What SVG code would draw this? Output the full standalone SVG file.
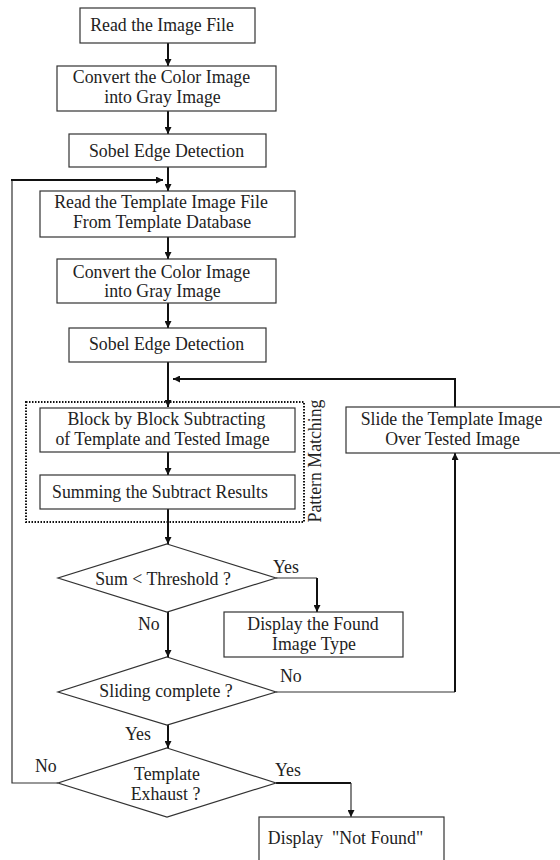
<svg xmlns="http://www.w3.org/2000/svg" width="560" height="860" viewBox="0 0 560 860">
<style>
.box{fill:#fff;stroke:#333;stroke-width:1.2}
.t{font-family:"Liberation Serif","Times New Roman",serif;font-size:17.8px;fill:#222;text-anchor:middle}
.lbl{font-family:"Liberation Serif","Times New Roman",serif;font-size:17.8px;fill:#222}
.c{fill:none;stroke:#111;stroke-width:2}
.thin{fill:none;stroke:#333;stroke-width:1.2}
</style>
<defs>
<marker id="ah2" viewBox="0 0 10 10" refX="10" refY="5" markerWidth="7" markerHeight="7" orient="auto" markerUnits="userSpaceOnUse">
<path d="M0,0 L10,5 L0,10 z" fill="#111"/>
</marker>
</defs>
<g id="connectors">
<line class="c" x1="168" y1="43" x2="168" y2="66" marker-end="url(#ah2)"/>
<line class="c" x1="168" y1="111" x2="168" y2="134" marker-end="url(#ah2)"/>
<line class="c" x1="168" y1="167" x2="168" y2="191" marker-end="url(#ah2)"/>
<line class="c" x1="168" y1="237" x2="168" y2="259" marker-end="url(#ah2)"/>
<line class="c" x1="168" y1="303" x2="168" y2="328" marker-end="url(#ah2)"/>
<line class="c" x1="168" y1="362" x2="168" y2="407" marker-end="url(#ah2)"/>
<line class="c" x1="168" y1="452" x2="168" y2="475" marker-end="url(#ah2)"/>
<line class="c" x1="168" y1="509" x2="168" y2="544" marker-end="url(#ah2)"/>
<line class="c" x1="168" y1="612" x2="168" y2="657" marker-end="url(#ah2)"/>
<line class="c" x1="168" y1="725" x2="168" y2="748" marker-end="url(#ah2)"/>
<polyline class="c" points="455,407 455,379 173,379" marker-end="url(#ah2)"/>
<polyline class="thin" points="276,578 317,578"/>
<line class="c" x1="317" y1="578" x2="317" y2="612" marker-end="url(#ah2)"/>
<polyline class="thin" points="276,692 455,692"/>
<line class="c" x1="455" y1="692" x2="455" y2="453" marker-end="url(#ah2)"/>
<polyline class="thin" points="58,783 12,783 12,180"/>
<line class="c" x1="11" y1="180" x2="163" y2="180" marker-end="url(#ah2)"/>
<line class="c" x1="276" y1="783" x2="351" y2="783"/>
<line class="thin" x1="351" y1="783" x2="351" y2="817" marker-end="url(#ah2)"/>
</g>
<g id="pattern-matching">
<rect x="26" y="402" width="278" height="120" fill="none" stroke="#111" stroke-width="2" stroke-dasharray="1.5,1.5"/>
<text class="t" transform="translate(321,461) rotate(-90)">Pattern Matching</text>
</g>
<g id="n1"><rect class="box" x="80" y="8" width="175" height="35"/><text class="t" x="162" y="31">Read the Image File</text></g>
<g id="n2"><rect class="box" x="57" y="66" width="219" height="45"/><text class="t" x="161.5" y="83">Convert the Color Image</text><text class="t" x="162.5" y="103">into Gray Image</text></g>
<g id="n3"><rect class="box" x="69" y="134" width="197" height="33"/><text class="t" x="166.5" y="156.5">Sobel Edge Detection</text></g>
<g id="n4"><rect class="box" x="40" y="191" width="255" height="46"/><text class="t" x="161" y="208">Read the Template Image File</text><text class="t" x="162" y="228">From Template Database</text></g>
<g id="n5"><rect class="box" x="57" y="259" width="219" height="44"/><text class="t" x="161.5" y="278">Convert the Color Image</text><text class="t" x="162.5" y="297">into Gray Image</text></g>
<g id="n6"><rect class="box" x="69" y="328" width="197" height="34"/><text class="t" x="166.5" y="350">Sobel Edge Detection</text></g>
<g id="n7"><rect class="box" x="40" y="408" width="255" height="44"/><text class="t" x="166.5" y="425">Block by Block Subtracting</text><text class="t" x="162.5" y="445">of Template and Tested Image</text></g>
<g id="n8"><rect class="box" x="40" y="475" width="255" height="34"/><text class="t" x="160" y="497.5">Summing the Subtract Results</text></g>
<g id="n9"><rect class="box" x="346" y="407" width="216" height="46"/><text class="t" x="451.5" y="425">Slide the Template Image</text><text class="t" x="452.5" y="445">Over Tested Image</text></g>
<g id="d1"><polygon class="box" points="167,544 276,578 167,612 58,578"/><text class="t" x="163" y="585">Sum &lt; Threshold ?</text></g>
<g id="n10"><rect class="box" x="224" y="612" width="179" height="45"/><text class="t" x="313" y="630">Display the Found</text><text class="t" x="314" y="650">Image Type</text></g>
<g id="d2"><polygon class="box" points="167,657 276,692 167,725 58,692"/><text class="t" x="166" y="697">Sliding complete ?</text></g>
<g id="d3"><polygon class="box" points="167,748 276,783 167,817 58,783"/><text class="t" x="167" y="780">Template</text><text class="t" x="165.5" y="800">Exhaust ?</text></g>
<g id="n11"><rect class="box" x="259" y="817" width="185" height="50"/><text class="t" x="345.5" y="844" xml:space="preserve">Display  "Not Found"</text></g>
<g id="labels">
<text class="lbl" x="273" y="573">Yes</text>
<text class="lbl" x="138" y="630">No</text>
<text class="lbl" x="280" y="682">No</text>
<text class="lbl" x="125" y="740">Yes</text>
<text class="lbl" x="35" y="772">No</text>
<text class="lbl" x="275" y="776">Yes</text>
</g>
</svg>
